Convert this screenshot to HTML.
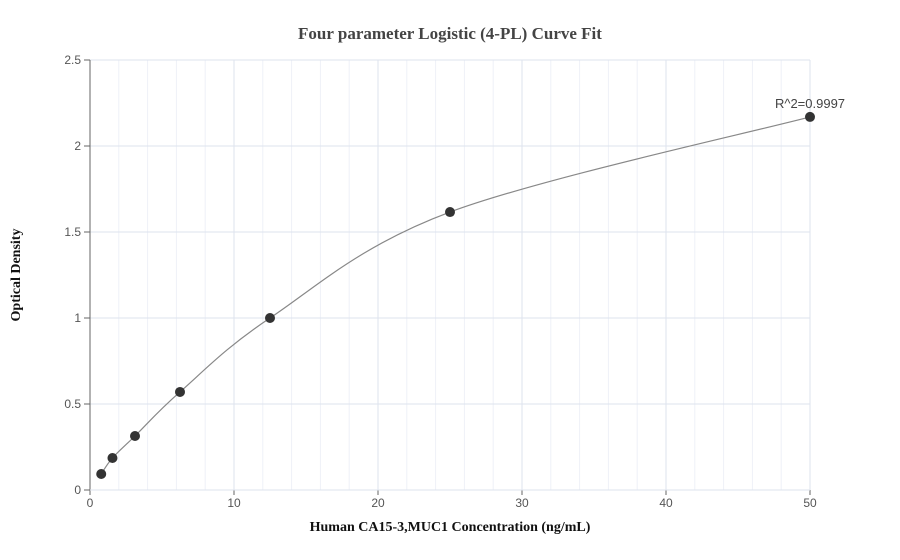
<!DOCTYPE html>
<html><head><meta charset="utf-8"><style>
body{margin:0;background:#fff;}
svg{display:block;font-family:"Liberation Sans",sans-serif;}
</style></head><body>
<svg id="chart" width="900" height="560">
<text x="450" y="39" text-anchor="middle" font-family="Liberation Serif" font-weight="bold" font-size="17" fill="#444">Four parameter Logistic (4-PL) Curve Fit</text>
<text x="450" y="531" text-anchor="middle" font-family="Liberation Serif" font-weight="bold" font-size="14" fill="#111">Human CA15-3,MUC1 Concentration (ng/mL)</text>
<text transform="translate(20,275) rotate(-90)" text-anchor="middle" font-family="Liberation Serif" font-weight="bold" font-size="14" fill="#111">Optical Density</text>
<g id="grid"></g><g id="axes"></g><g id="marks"></g>
</svg>
<script>
const xData=[0.78,1.56,3.125,6.25,12.5,25,50];
const yData=[0.093,0.186,0.314,0.570,1.0,1.616,2.169];
const xTicks=[0,10,20,30,40,50];
const yTicks=[0,0.5,1,1.5,2,2.5];
const yTickLabels=["0","0.5","1","1.5","2","2.5"];
const r2Label="R^2=0.9997";
const NS="http://www.w3.org/2000/svg";
const X=v=>90+v*14.4, Y=v=>490-v*172;
function mk(tag,attrs,parent){const e=document.createElementNS(NS,tag);for(const k in attrs)e.setAttribute(k,attrs[k]);parent.appendChild(e);return e;}
const grid=document.getElementById('grid'),axes=document.getElementById('axes'),marks=document.getElementById('marks');
for(let v=0;v<=50;v+=2){const l=mk('line',{x1:X(v),x2:X(v),y1:60,y2:490,stroke:v%10==0?'#dde3ee':'#eef1f7','stroke-width':1},grid);
}
yTicks.forEach((v,i)=>{const l=mk('line',{x1:90,x2:810,y1:Y(v),y2:Y(v),stroke:'#dde3ee'},grid);

const t=mk('line',{x1:84,x2:90,y1:Y(v),y2:Y(v),stroke:'#666'},axes);

const tx=mk('text',{x:81,y:Y(v)+4,'text-anchor':'end','font-size':12,fill:'#555'},axes);tx.textContent=yTickLabels[i];
});
xTicks.forEach(v=>{const t=mk('line',{x1:X(v),x2:X(v),y1:490,y2:495,stroke:'#666'},axes);

const tx=mk('text',{x:X(v),y:507,'text-anchor':'middle','font-size':12,fill:'#555'},axes);tx.textContent=v;
});
const ya=mk('line',{x1:90,x2:90,y1:60,y2:490,stroke:'#666'},axes);

const xa=mk('line',{x1:90,x2:810,y1:490,y2:490,stroke:'#dde3ee'},axes);

const P=xData.map((x,i)=>[X(x),Y(yData[i])]);
let d='M'+P[0][0]+','+P[0][1];
for(let i=0;i<P.length-1;i++){const p0=P[Math.max(0,i-1)],p1=P[i],p2=P[i+1],p3=P[Math.min(P.length-1,i+2)];
const c1=[p1[0]+(p2[0]-p0[0])/6,p1[1]+(p2[1]-p0[1])/6],c2=[p2[0]-(p3[0]-p1[0])/6,p2[1]-(p3[1]-p1[1])/6];
d+=' C'+c1+' '+c2+' '+p2;}
const c=mk('path',{d:d,fill:'none',stroke:'#888','stroke-width':1.2},marks);

xData.forEach((x,i)=>{const p=mk('circle',{cx:X(x),cy:Y(yData[i]),r:5,fill:'#333'},marks);
});
const rl=mk('text',{x:X(xData[xData.length-1]),y:Y(yData[yData.length-1])-9,'text-anchor':'middle','font-size':13,fill:'#444'},marks);
rl.textContent=r2Label;

</script>
</body></html>
